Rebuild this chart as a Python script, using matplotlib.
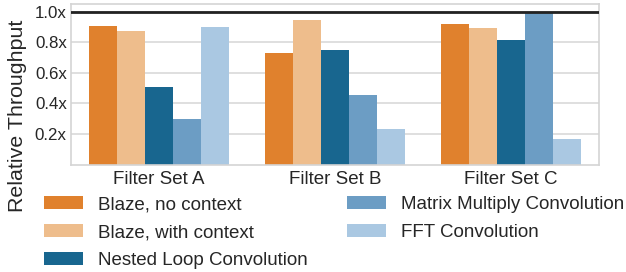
import matplotlib.pyplot as plt
import numpy as np

# Datos
groups = ['Filter Set A', 'Filter Set B', 'Filter Set C']
series_names = ['Blaze, no context', 'Blaze, with context', 'Nested Loop Convolution',
                'Matrix Multiply Convolution', 'FFT Convolution']
blaze_no_ctx = [0.908, 0.731, 0.921]
blaze_ctx = [0.875, 0.947, 0.895]
nested_loop = [0.508, 0.750, 0.816]
matrix_mult = [0.298, 0.456, 0.998]
fft_conv = [0.900, 0.233, 0.167]
values = [blaze_no_ctx, blaze_ctx, nested_loop, matrix_mult, fft_conv]
colors = ['#e0812d', '#eebd8c', '#18668f', '#6c9dc4', '#aac8e2']
yticks = [0.2, 0.4, 0.6, 0.8, 1.0]

plt.rcParams['font.family'] = ['Liberation Sans', 'DejaVu Sans']

fig = plt.figure(figsize=(6.26, 2.72), dpi=100)
ax = fig.add_axes([71 / 626, 1 - 164.5 / 272, 528 / 626, 160.5 / 272])

x = np.arange(len(groups))
width = 0.8 / len(values)
for i, (name, vals) in enumerate(zip(series_names, values)):
    ax.bar(x - 0.4 + width * (i + 0.5), vals, width, color=colors[i], label=name, zorder=2)

ax.axhline(1.0, color='#222222', linewidth=2, zorder=3)

ax.set_xlim(-0.5, 2.5)
ax.set_ylim(0, 1.052)
ax.set_xticks(x)
ax.set_xticklabels(groups, fontsize=13.5, color='#262626')
ax.set_yticks(yticks)
ax.set_yticklabels([f'{t:.1f}x' for t in yticks], fontsize=12.2, color='#262626')
ax.tick_params(length=0, pad=3)
ax.tick_params(axis='x', pad=5)
ax.grid(axis='y', color='#d9d9d9', linewidth=1.2, zorder=0)
for s in ax.spines.values():
    s.set_color('#d4d4d4')
    s.set_linewidth(1.2)

fig.text(18 / 626, 1 - 116 / 272, 'Relative Throughput', rotation=90,
         ha='center', va='center', fontsize=15.4, color='#262626')

handles, labels = ax.get_legend_handles_labels()
fig.legend(handles, labels, loc='upper left', bbox_to_anchor=(44 / 626, 1 - 196 / 272),
           ncol=2, frameon=False, fontsize=13.5, handlelength=2.08, handleheight=0.71,
           handletextpad=0.8, columnspacing=2.08, labelspacing=0.57, borderpad=0,
           borderaxespad=0, labelcolor='#262626')

fig.savefig('out.png', dpi=100)
